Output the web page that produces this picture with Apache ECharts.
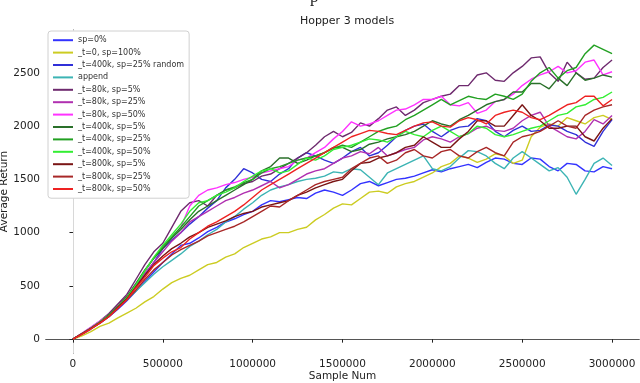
<!DOCTYPE html>
<html lang="en">
<head>
<meta charset="UTF-8">
<title>Hopper 3 models</title>
<script src="https://cdn.jsdelivr.net/npm/echarts@6/dist/echarts.min.js"></script>
<style>
  html, body { margin: 0; padding: 0; background: #fff; }
  #chart { width: 640px; height: 383px; }
</style>
</head>
<body>
<div id="chart"></div>
<script>
// x positions (sample num) shared by every curve
var sampleNum = [0,50000,100000,150000,200000,250000,300000,350000,400000,450000,
  500000,550000,600000,650000,700000,750000,800000,850000,900000,950000,
  1000000,1050000,1100000,1150000,1200000,1250000,1300000,1350000,1400000,1450000,
  1500000,1550000,1600000,1650000,1700000,1750000,1800000,1850000,1900000,1950000,
  2000000,2050000,2100000,2150000,2200000,2250000,2300000,2350000,2400000,2450000,
  2500000,2550000,2600000,2650000,2700000,2750000,2800000,2850000,2900000,2950000,
  3000000];

var xTicks = [0, 500000, 1000000, 1500000, 2000000, 2500000, 3000000];
var yTicks = [0, 500, 1000, 1500, 2000, 2500];

// average return, one array per run
var sp0 = [0,45,95,150,210,280,360,450,540,630,
  720,800,880,900,950,1010,1050,1100,1130,1170,
  1200,1260,1300,1290,1310,1330,1320,1370,1400,1380,
  1350,1400,1460,1480,1440,1470,1500,1510,1530,1560,
  1590,1570,1600,1620,1640,1610,1660,1700,1690,1650,
  1640,1700,1690,1620,1580,1650,1640,1580,1570,1620,
  1600];
var t0sp100 = [0,30,70,120,150,200,245,290,350,400,
  470,530,570,600,650,700,720,770,800,860,
  900,940,960,1000,1000,1030,1050,1120,1170,1230,
  1270,1260,1320,1380,1390,1370,1430,1460,1480,1520,
  1560,1620,1650,1720,1700,1660,1690,1740,1720,1650,
  1680,1900,1990,2020,2000,2080,2050,2020,2080,2100,
  2060];
var t400sp25rand = [0,50,100,160,215,290,380,490,600,720,
  850,930,1000,1080,1150,1230,1300,1420,1500,1600,
  1560,1500,1480,1550,1600,1700,1750,1720,1680,1650,
  1700,1760,1800,1720,1750,1820,1900,1960,2000,2020,
  1950,1900,1960,1990,2000,2070,2050,1950,1900,1960,
  2000,1950,1960,2010,2000,1950,1920,1850,1810,1950,
  2060];
var append = [0,50,100,160,220,300,370,450,530,610,
  680,740,800,870,920,980,1030,1100,1150,1220,
  1280,1350,1400,1430,1450,1480,1500,1510,1530,1570,
  1560,1600,1590,1520,1450,1560,1600,1640,1680,1720,
  1600,1580,1620,1700,1770,1760,1720,1650,1600,1700,
  1760,1700,1640,1580,1610,1520,1360,1500,1650,1700,
  1630];
var t80sp5 = [0,55,110,170,240,330,420,560,700,820,
  900,1050,1200,1280,1300,1250,1350,1400,1420,1460,
  1480,1530,1550,1600,1650,1700,1750,1820,1900,1950,
  1900,1940,2030,2000,2070,2150,2180,2100,2150,2220,
  2250,2280,2300,2380,2380,2480,2500,2430,2420,2500,
  2560,2640,2650,2500,2420,2600,2500,2440,2450,2550,
  2620];
var t80sp25 = [0,50,105,160,220,300,380,500,620,720,
  820,920,1000,1100,1150,1200,1250,1300,1330,1370,
  1400,1440,1480,1420,1450,1500,1550,1580,1600,1650,
  1700,1720,1760,1740,1800,1720,1750,1780,1800,1870,
  1900,1880,1850,1900,1930,1980,2000,1960,1950,1980,
  2050,2100,2130,2000,1950,1900,1880,1950,2060,2020,
  2100];
var t80sp50 = [0,55,110,170,230,310,400,520,640,760,
  860,950,1050,1250,1350,1400,1420,1450,1470,1500,
  1520,1560,1580,1600,1620,1680,1700,1750,1800,1880,
  1950,2040,2000,2020,2050,2100,2150,2160,2200,2250,
  2250,2280,2200,2190,2220,2120,2150,2230,2250,2300,
  2380,2440,2480,2510,2560,2500,2520,2600,2620,2480,
  2510];
var t400sp5 = [0,50,105,160,230,310,400,520,650,760,
  850,950,1030,1120,1200,1250,1300,1350,1400,1450,
  1500,1580,1620,1700,1700,1650,1680,1720,1750,1800,
  1800,1760,1780,1830,1850,1880,1900,1920,1950,2000,
  2050,2020,2000,2060,2100,2150,2200,2230,2250,2320,
  2320,2400,2400,2350,2450,2380,2500,2430,2450,2480,
  2460];
var t400sp25 = [0,50,100,160,220,300,390,510,640,760,
  870,960,1050,1150,1250,1300,1350,1400,1430,1470,
  1500,1560,1600,1620,1650,1680,1700,1720,1750,1790,
  1820,1800,1850,1900,1950,1980,2000,2060,2100,2150,
  2200,2250,2200,2240,2280,2260,2250,2300,2280,2250,
  2300,2420,2500,2550,2450,2520,2550,2680,2760,2720,
  2680];
var t400sp50 = [0,50,100,160,220,300,390,510,640,770,
  880,980,1080,1200,1280,1300,1350,1380,1420,1480,
  1530,1580,1600,1560,1580,1640,1700,1680,1720,1780,
  1800,1820,1850,1880,1870,1850,1900,1950,1920,1900,
  1960,2000,1950,1900,1930,2000,1980,1920,1900,1920,
  1950,1980,2000,2050,2100,2120,2180,2200,2250,2270,
  2320];
var t800sp5 = [0,50,100,155,215,300,380,490,600,700,
  780,850,900,960,1000,1050,1080,1110,1150,1180,
  1200,1240,1260,1280,1300,1350,1380,1420,1450,1480,
  1500,1580,1650,1660,1700,1720,1750,1800,1820,1900,
  1850,1800,1800,1880,1950,2050,2050,2000,2000,2100,
  2200,2100,2050,1980,1980,2000,2000,1900,1860,1980,
  2070];
var t800sp25 = [0,50,100,150,210,290,370,460,560,650,
  720,790,840,880,920,970,1000,1030,1060,1100,
  1150,1200,1250,1240,1300,1350,1400,1450,1480,1500,
  1520,1600,1650,1700,1720,1650,1680,1750,1780,1720,
  1700,1760,1780,1720,1700,1760,1800,1750,1720,1850,
  1900,1920,1950,2000,2050,2000,1980,2100,2150,2180,
  2200];
var t800sp50 = [0,45,95,150,210,290,370,480,580,690,
  760,820,860,940,1000,1060,1100,1150,1200,1260,
  1330,1400,1450,1500,1550,1600,1650,1700,1750,1800,
  1850,1900,1930,1960,1950,1930,1920,1960,2000,2030,
  2040,2000,1990,2050,2080,2060,2020,2100,2130,2150,
  2130,2080,2060,2100,2150,2200,2220,2280,2280,2190,
  2250];

var names = ['sp=0%', '_t=0, sp=100%', '_t=400k, sp=25% random', 'append',
  '_t=80k, sp=5%', '_t=80k, sp=25%', '_t=80k, sp=50%',
  '_t=400k, sp=5%', '_t=400k, sp=25%', '_t=400k, sp=50%',
  '_t=800k, sp=5%', '_t=800k, sp=25%', '_t=800k, sp=50%'];
var colors = ['#3333ff', '#cccc22', '#3030d8', '#3cb4b4',
  '#6e2a6e', '#b030b0', '#ff33ff',
  '#2a702a', '#22a022', '#33ee33',
  '#7a1515', '#a82828', '#ee2222'];
var runs = [sp0, t0sp100, t400sp25rand, append,
  t80sp5, t80sp25, t80sp50,
  t400sp5, t400sp25, t400sp50,
  t800sp5, t800sp25, t800sp50];

var font = '"DejaVu Sans", sans-serif';

function pairs(ys) {
    var out = [];
    for (var i = 0; i < ys.length; i++) {
        out.push([sampleNum[i], ys[i]]);
    }
    return out;
}

// plain numbers, no thousand separators
function plain(v) { return String(v); }

var series = [];
for (var s = 0; s < runs.length; s++) {
    series.push({
        name: names[s],
        type: 'line',
        data: pairs(runs[s]),
        showSymbol: false,
        symbol: 'none',
        lineStyle: { width: 1.4, color: colors[s] },
        itemStyle: { color: colors[s] }
    });
}

var chart = echarts.init(document.getElementById('chart'));
chart.setOption({
    animation: false,
    backgroundColor: '#fff',
    title: {
        text: 'Hopper 3 models',
        left: 342,
        top: 11,
        textAlign: 'center',
        textStyle: { fontFamily: font, fontSize: 11, fontWeight: 'normal', color: '#222' }
    },
    graphic: [{
        type: 'text',
        left: 310,
        top: -11,
        style: { text: 'p', font: '17px "Liberation Serif"', fill: '#222' }
    }],
    legend: {
        orient: 'vertical',
        left: 48,
        top: 31,
        padding: [4, 5, 4, 5],
        itemWidth: 20,
        itemHeight: 2,
        itemGap: 2,
        icon: 'rect',
        backgroundColor: '#fff',
        borderColor: '#d0d0d0',
        borderWidth: 1,
        borderRadius: 3,
        textStyle: { fontFamily: font, fontSize: 8, lineHeight: 10.4, color: '#333' },
        data: names
    },
    grid: { left: 46, right: 1, top: 30, bottom: 30, outerBoundsMode: 'none', containLabel: false },
    xAxis: [{
        type: 'value',
        min: -150000,
        max: 3150000,
        name: 'Sample Num',
        nameLocation: 'middle',
        nameGap: 18,
        nameMoveOverlap: false,
        nameTextStyle: { fontFamily: font, fontSize: 10.5, color: '#222' },
        axisLine: { lineStyle: { color: '#222', width: 1 } },
        axisTick: { customValues: xTicks, length: 3.5, lineStyle: { color: '#222' } },
        axisLabel: { customValues: xTicks, formatter: plain, margin: 6, fontFamily: font, fontSize: 10.5, color: '#222' },
        splitLine: { show: false }
    }, {
        type: 'value',
        position: 'top',
        min: -150000,
        max: 3150000,
        axisLine: { show: true, lineStyle: { color: '#555', width: 1 } },
        axisTick: { show: false },
        axisLabel: { show: false },
        splitLine: { show: false }
    }],
    yAxis: [{
        type: 'value',
        min: -130,
        max: 2902,
        name: 'Average Return',
        nameLocation: 'middle',
        nameGap: 36,
        nameMoveOverlap: false,
        nameTextStyle: { fontFamily: font, fontSize: 10.5, color: '#222' },
        axisLine: { show: true, lineStyle: { color: '#222', width: 1 } },
        axisTick: { show: true, customValues: yTicks, length: 3.5, lineStyle: { color: '#222' } },
        axisLabel: { customValues: yTicks, formatter: plain, margin: 6, fontFamily: font, fontSize: 10.5, color: '#222' },
        splitLine: { show: false }
    }, {
        type: 'value',
        position: 'right',
        min: -130,
        max: 2902,
        axisLine: { show: true, lineStyle: { color: '#d8d8d8', width: 1 } },
        axisTick: { show: false },
        axisLabel: { show: false },
        splitLine: { show: false }
    }],
    series: series
});
</script>
</body>
</html>
